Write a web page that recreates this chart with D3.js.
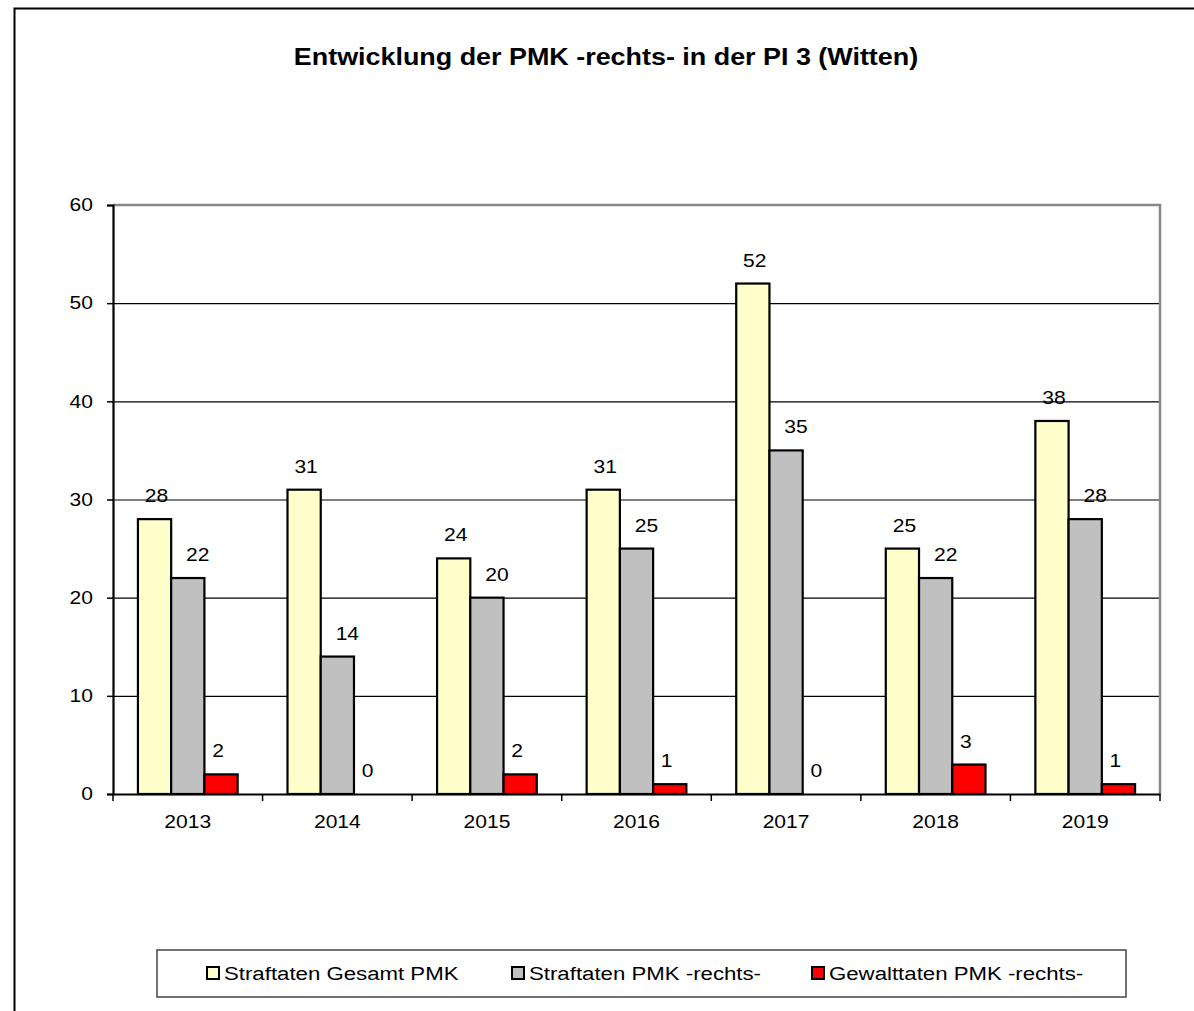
<!DOCTYPE html>
<html>
<head>
<meta charset="utf-8">
<script src="https://cdn.jsdelivr.net/npm/d3@7"></script>
<style>
  html, body { margin: 0; padding: 0; background: #fff; }
  svg { display: block; font-family: "Liberation Sans", Arial, sans-serif; }
</style>
</head>
<body>
<svg id="chart" width="1194" height="1011"></svg>
<script>
const title = "Entwicklung der PMK -rechts- in der PI 3 (Witten)";
const years = ["2013", "2014", "2015", "2016", "2017", "2018", "2019"];
const seriesNames = ["Straftaten Gesamt PMK", "Straftaten PMK -rechts-", "Gewalttaten PMK -rechts-"];
const gesamt = [28, 31, 24, 31, 52, 25, 38];
const rechts = [22, 14, 20, 25, 35, 22, 28];
const gewalt = [2, 0, 2, 1, 0, 3, 1];
const yTicks = [0, 10, 20, 30, 40, 50, 60];
const colors = ["#ffffcc", "#c0c0c0", "#ff0000"];

const seriesValues = [gesamt, rechts, gewalt];
const svg = d3.select("#chart");
const STRETCH = 1.17;
const labelShift = [2, 10, -3];

// outer chart border
svg.append("rect").attr("x", 14.5).attr("y", 8.5).attr("width", 1300).attr("height", 1100)
  .attr("fill", "none").attr("stroke", "#000").attr("stroke-width", 2);

// title
svg.append("text").attr("x", 606).attr("y", 65).attr("text-anchor", "middle")
  .attr("font-size", 23).attr("font-weight", "bold").attr("fill", "#000").text(title);

const pLeft = 113, pRight = 1160, pTop = 205, pBottom = 794;
const x0 = d3.scaleBand().domain(years).range([pLeft, pRight]).padding(0);
const bw = x0.bandwidth();
const x1 = d3.scaleBand().domain(seriesNames).range([bw / 6, bw * 5 / 6]).padding(0);
const y = d3.scaleLinear().domain([0, 60]).range([pBottom, pTop]);

// gridlines
svg.append("g").selectAll("line").data(yTicks.filter(t => t > 0 && t < 60)).join("line")
  .attr("x1", pLeft).attr("x2", pRight)
  .attr("y1", d => y(d) + 0.5).attr("y2", d => y(d) + 0.5)
  .attr("stroke", "#000").attr("stroke-width", 1.2);

// plot area top and right border (gray)
svg.append("path")
  .attr("d", `M${pLeft},${y(60)}H${pRight}V${pBottom}`)
  .attr("fill", "none").attr("stroke", "#888").attr("stroke-width", 2.5);

// bars
const groups = svg.append("g").selectAll("g").data(years).join("g")
  .attr("transform", d => `translate(${x0(d)},0)`);

groups.selectAll("rect")
  .data((d, i) => seriesNames.map((s, j) => ({ s, j, v: seriesValues[j][i] })).filter(e => e.v > 0))
  .join("rect")
  .attr("x", d => x1(d.s))
  .attr("y", d => y(d.v))
  .attr("width", x1.bandwidth())
  .attr("height", d => y(0) - y(d.v))
  .attr("fill", d => colors[d.j])
  .attr("stroke", "#000").attr("stroke-width", 2.2);

// labels
groups.selectAll("text.lbl")
  .data((d, i) => seriesNames.map((s, j) => ({ s, j, v: seriesValues[j][i] })))
  .join("text").attr("class", "lbl")
  .attr("x", d => x1(d.s) + x1.bandwidth() / 2 + labelShift[d.j])
  .attr("y", d => y(d.v) - 17)
  .attr("text-anchor", "middle")
  .attr("font-size", 18).attr("fill", "#000")
  .text(d => d.v);

// y axis
const yAxis = d3.axisLeft(y).tickValues(yTicks).tickSize(6).tickPadding(14);
const gy = svg.append("g").attr("transform", `translate(${pLeft},0)`).call(yAxis);
gy.select(".domain").attr("stroke", "#000").attr("stroke-width", 2.2);
gy.selectAll(".tick line").attr("stroke", "#000").attr("stroke-width", 1.5);
gy.selectAll(".tick text").attr("font-size", 18).attr("fill", "#000")
  .attr("font-family", "Liberation Sans, Arial, sans-serif");

// x axis
const xAxis = d3.axisBottom(x0).tickSize(0).tickPadding(21);
const gx = svg.append("g").attr("transform", `translate(0,${pBottom})`).call(xAxis);
gx.select(".domain").attr("stroke", "#000").attr("stroke-width", 2.2);
gx.selectAll(".tick text").attr("font-size", 18).attr("fill", "#000")
  .attr("font-family", "Liberation Sans, Arial, sans-serif");
// category boundary ticks
svg.append("g").selectAll("line").data(years.concat(["end"])).join("line")
  .attr("x1", d => d === "end" ? pRight : x0(d))
  .attr("x2", d => d === "end" ? pRight : x0(d))
  .attr("y1", pBottom).attr("y2", pBottom + 7)
  .attr("stroke", "#000").attr("stroke-width", 1.5);

// legend
svg.append("rect").attr("x", 157).attr("y", 950).attr("width", 969).attr("height", 47)
  .attr("fill", "#fff").attr("stroke", "#444").attr("stroke-width", 1.5);
const legendX = [207, 512, 812];
const leg = svg.append("g").selectAll("g").data(seriesNames).join("g")
  .attr("transform", (d, i) => `translate(${legendX[i]},973)`);
leg.append("rect").attr("x", 0).attr("y", -6).attr("width", 12).attr("height", 12)
  .attr("fill", (d, i) => colors[i]).attr("stroke", "#000").attr("stroke-width", 2);
leg.append("text").attr("x", 17).attr("y", 7).attr("font-size", 19).attr("fill", "#000")
  .text(d => d);

// horizontal stretch of all text to mimic the original's wide glyphs
svg.selectAll("text").each(function () {
  const t = d3.select(this);
  const tx = +(t.attr("x") || 0);
  t.attr("transform", `translate(${tx},0) scale(${STRETCH},1) translate(${-tx},0)`);
});
</script>
</body>
</html>
